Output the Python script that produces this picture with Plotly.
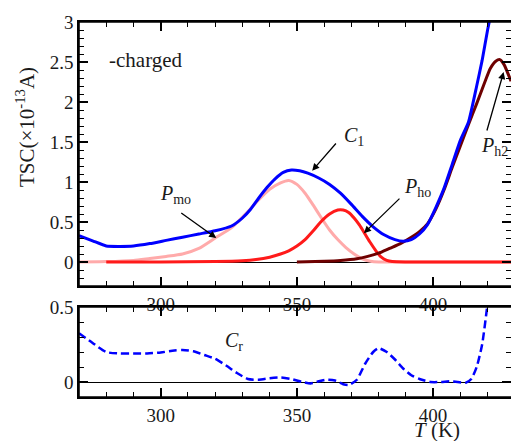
import plotly.graph_objects as go

# ---------------- data ----------------
T_total = [270, 275, 280, 285, 290, 296, 302, 308, 314, 320, 326, 330, 333, 336, 339, 342, 345,
           348, 351, 354, 358, 362, 366, 370, 374, 378, 382, 386, 389, 392, 395, 398, 401, 404,
           407, 410, 413, 416, 418, 420, 421.5]
C1_total = [0.33, 0.265, 0.20, 0.195, 0.20, 0.23, 0.27, 0.31, 0.35, 0.39, 0.45, 0.55, 0.66, 0.80,
            0.93, 1.04, 1.12, 1.15, 1.14, 1.11, 1.05, 0.97, 0.86, 0.72, 0.57, 0.44, 0.34, 0.28,
            0.26, 0.28, 0.35, 0.47, 0.68, 0.92, 1.22, 1.52, 1.75, 2.20, 2.52, 2.90, 3.15]

T_mo = [270, 280, 290, 296, 302, 308, 314, 320, 326, 332, 336, 340, 344, 347, 350, 353, 356, 359,
        362, 365, 368, 371, 374, 377, 380, 400, 428.6]
P_mo = [0.0, 0.005, 0.02, 0.045, 0.07, 0.10, 0.17, 0.30, 0.43, 0.63, 0.78, 0.91, 0.99, 1.02,
        0.97, 0.86, 0.71, 0.55, 0.40, 0.28, 0.18, 0.10, 0.04, 0.01, 0.0, 0.0, 0.0]

T_ho = [280, 300, 320, 330, 335, 340, 344, 347, 350, 353, 356, 359, 362, 365, 367, 369, 371, 373,
        375, 377, 379, 381, 383, 385, 390, 410, 428.6]
P_ho = [0.0, 0.0, 0.005, 0.015, 0.03, 0.06, 0.10, 0.14, 0.20, 0.28, 0.39, 0.51, 0.60, 0.65, 0.65,
        0.62, 0.55, 0.46, 0.35, 0.24, 0.14, 0.06, 0.02, 0.005, 0.0, 0.0, 0.0]

T_h2 = [350, 360, 366, 372, 376, 380, 384, 388, 392, 395, 398, 401, 404, 407, 410, 413, 416, 419,
        421, 423, 424.5, 426, 428.6]
P_h2 = [0.0, 0.01, 0.02, 0.04, 0.07, 0.11, 0.17, 0.23, 0.31, 0.38, 0.48, 0.66, 0.90, 1.18, 1.45,
        1.72, 1.98, 2.25, 2.42, 2.51, 2.53, 2.47, 2.26]

T_res = [270, 275, 280, 285, 290, 295, 300, 305, 308, 312, 316, 320, 324, 328, 332, 336, 340, 344,
         348, 352, 355, 358, 361, 364, 367, 369, 372, 375, 378, 380, 383, 386, 389, 392, 395, 399,
         403, 406, 409, 412, 414, 416, 418, 419.5, 420.5]
C_r = [0.325, 0.26, 0.20, 0.19, 0.19, 0.19, 0.197, 0.21, 0.213, 0.205, 0.18, 0.155, 0.11, 0.06,
       0.02, 0.015, 0.025, 0.03, 0.02, 0.0, -0.01, 0.005, 0.016, 0.01, -0.015, -0.02, 0.015, 0.12,
       0.20, 0.225, 0.20, 0.15, 0.09, 0.045, 0.02, 0.0, 0.0, 0.005, 0.0, -0.005, 0.02, 0.10, 0.25,
       0.45, 0.60]

x_range = [270, 428.6]
x_ticks = [300, 350, 400]
y_top_range = [-0.3, 3]
y_bot_range = [-0.1, 0.5]
y_top_ticks = [0, 0.5, 1, 1.5, 2, 2.5, 3]
y_top_labels = ["0", "0.5", "1", "1.5", "2", "2.5", "3"]
y_bot_ticks = [0, 0.5]
y_bot_labels = ["0", "0.5"]

# ---------------- figure ----------------
FONT = "Liberation Serif, Times New Roman, serif"
W, H = 511, 441

xdom = [79 / W, 1.0]
top_dom = [1 - 286 / H, 1 - 22 / H]
bot_dom = [1 - 397 / H, 1 - 307 / H]

fig = go.Figure()


def add_line(x, y, color, width, xa="x", ya="y", dash=None, smooth=0.6):
    fig.add_trace(go.Scatter(
        x=x, y=y, mode="lines", xaxis=xa, yaxis=ya,
        line=dict(color=color, width=width, shape="spline", smoothing=smooth, dash=dash),
        hoverinfo="skip", showlegend=False))


add_line(T_mo, P_mo, "#ffaaaa", 3)
add_line(T_ho, P_ho, "#ff1a1a", 3)
add_line(T_h2, P_h2, "#6e0000", 3)
add_line(T_total, C1_total, "#0000ff", 3, smooth=0.5)
add_line(T_res, C_r, "#0000ff", 2.5, xa="x2", ya="y2", dash="8px,4px", smooth=0.6)

TF = dict(family=FONT, size=19, color="#1a1a1a")
MINOR = dict(ticks="inside", ticklen=5, tickwidth=1.4, tickcolor="#000000", showgrid=False)


def ax_x(anchor):
    return dict(domain=xdom, anchor=anchor, range=x_range,
                tickmode="array", tickvals=x_ticks,
                ticks="inside", ticklen=9, tickwidth=1.6, tickcolor="#000000",
                minor=dict(dtick=10, tick0=300, **MINOR),
                showline=True, linewidth=1.6, linecolor="#000000", mirror="ticks",
                showgrid=False, zeroline=False, automargin=False, layer="above traces",
                tickfont=TF)


def ax_y(anchor, dom, rng, vals, labels):
    return dict(domain=dom, anchor=anchor, range=rng,
                tickmode="array", tickvals=vals, ticktext=labels,
                ticks="inside", ticklen=9, tickwidth=1.6, tickcolor="#000000",
                minor=dict(dtick=0.1, tick0=0, **MINOR),
                showline=True, linewidth=1.6, linecolor="#000000", mirror="ticks",
                showgrid=False, zeroline=True, zerolinecolor="black", zerolinewidth=1.2,
                automargin=False, layer="above traces", tickfont=TF)


fig.update_layout(
    width=W, height=H, autosize=False,
    margin=dict(l=0, r=0, t=0, b=0, pad=0),
    paper_bgcolor="white", plot_bgcolor="white",
    font=dict(family=FONT, color="#1a1a1a"),
    xaxis=ax_x("y"),
    yaxis=ax_y("x", top_dom, y_top_range, y_top_ticks, y_top_labels),
    xaxis2=ax_x("y2"),
    yaxis2=ax_y("x2", bot_dom, y_bot_range, y_bot_ticks, y_bot_labels),
)

# frame of each panel (top, left, bottom edges) in paper units, above everything
shapes = []
for dom in (top_dom, bot_dom):
    for (x0, y0, x1, y1) in ((xdom[0], dom[1], 1.0, dom[1]),
                             (xdom[0], dom[0], xdom[0], dom[1]),
                             (xdom[0], dom[0], 1.0, dom[0])):
        shapes.append(dict(type="line", xref="paper", yref="paper", x0=x0, y0=y0, x1=x1, y1=y1,
                           line=dict(color="black", width=1.6), layer="above"))
fig.update_layout(shapes=shapes)

ann = []


def text(x, y, s, size=20, xref="x", yref="y", xanchor="left", yanchor="middle"):
    ann.append(dict(x=x, y=y, xref=xref, yref=yref, text=s, showarrow=False,
                    xanchor=xanchor, yanchor=yanchor,
                    font=dict(family=FONT, size=size, color="#1a1a1a")))


def arrow(x, y, ax, ay, xref="x", yref="y"):
    ann.append(dict(x=x, y=y, ax=ax, ay=ay, xref=xref, yref=yref, axref=xref, ayref=yref,
                    text="", showarrow=True, arrowhead=2, arrowsize=1.1, arrowwidth=1.3,
                    arrowcolor="black"))


text(280.1, 2.525, "-charged", size=21)
text(366.6, 1.57, "<i>C</i><sub>1</sub>", size=20)
arrow(355.6, 1.14, 364.8, 1.50)
text(298.9, 0.85, "<i>P</i><sub>mo</sub>", size=20)
arrow(320.4, 0.30, 307.0, 0.625)
text(388.5, 0.93, "<i>P</i><sub>ho</sub>", size=20)
arrow(374.6, 0.36, 388.2, 0.81)
text(416.8, 1.45, "<i>P</i><sub>h2</sub>", size=20)
arrow(425.9, 2.375, 419.6, 1.625)
text(322.7, 0.27, "<i>C</i><sub>r</sub>", size=20, xref="x2", yref="y2")

ann.append(dict(x=25 / W, y=1 - 127 / H, xref="paper", yref="paper",
                xanchor="center", yanchor="middle",
                text="TSC(×10<sup>-13</sup>A)", showarrow=False, textangle=-90,
                font=dict(family=FONT, size=21, color="#1a1a1a")))
ann.append(dict(x=437 / W, y=1 - 429.5 / H, xref="paper", yref="paper",
                xanchor="center", yanchor="middle",
                text="<i>T</i> (K)", showarrow=False,
                font=dict(family=FONT, size=21, color="#1a1a1a")))

fig.update_layout(annotations=ann)
fig.write_html("out.html", config=dict(responsive=False, displayModeBar=False))
